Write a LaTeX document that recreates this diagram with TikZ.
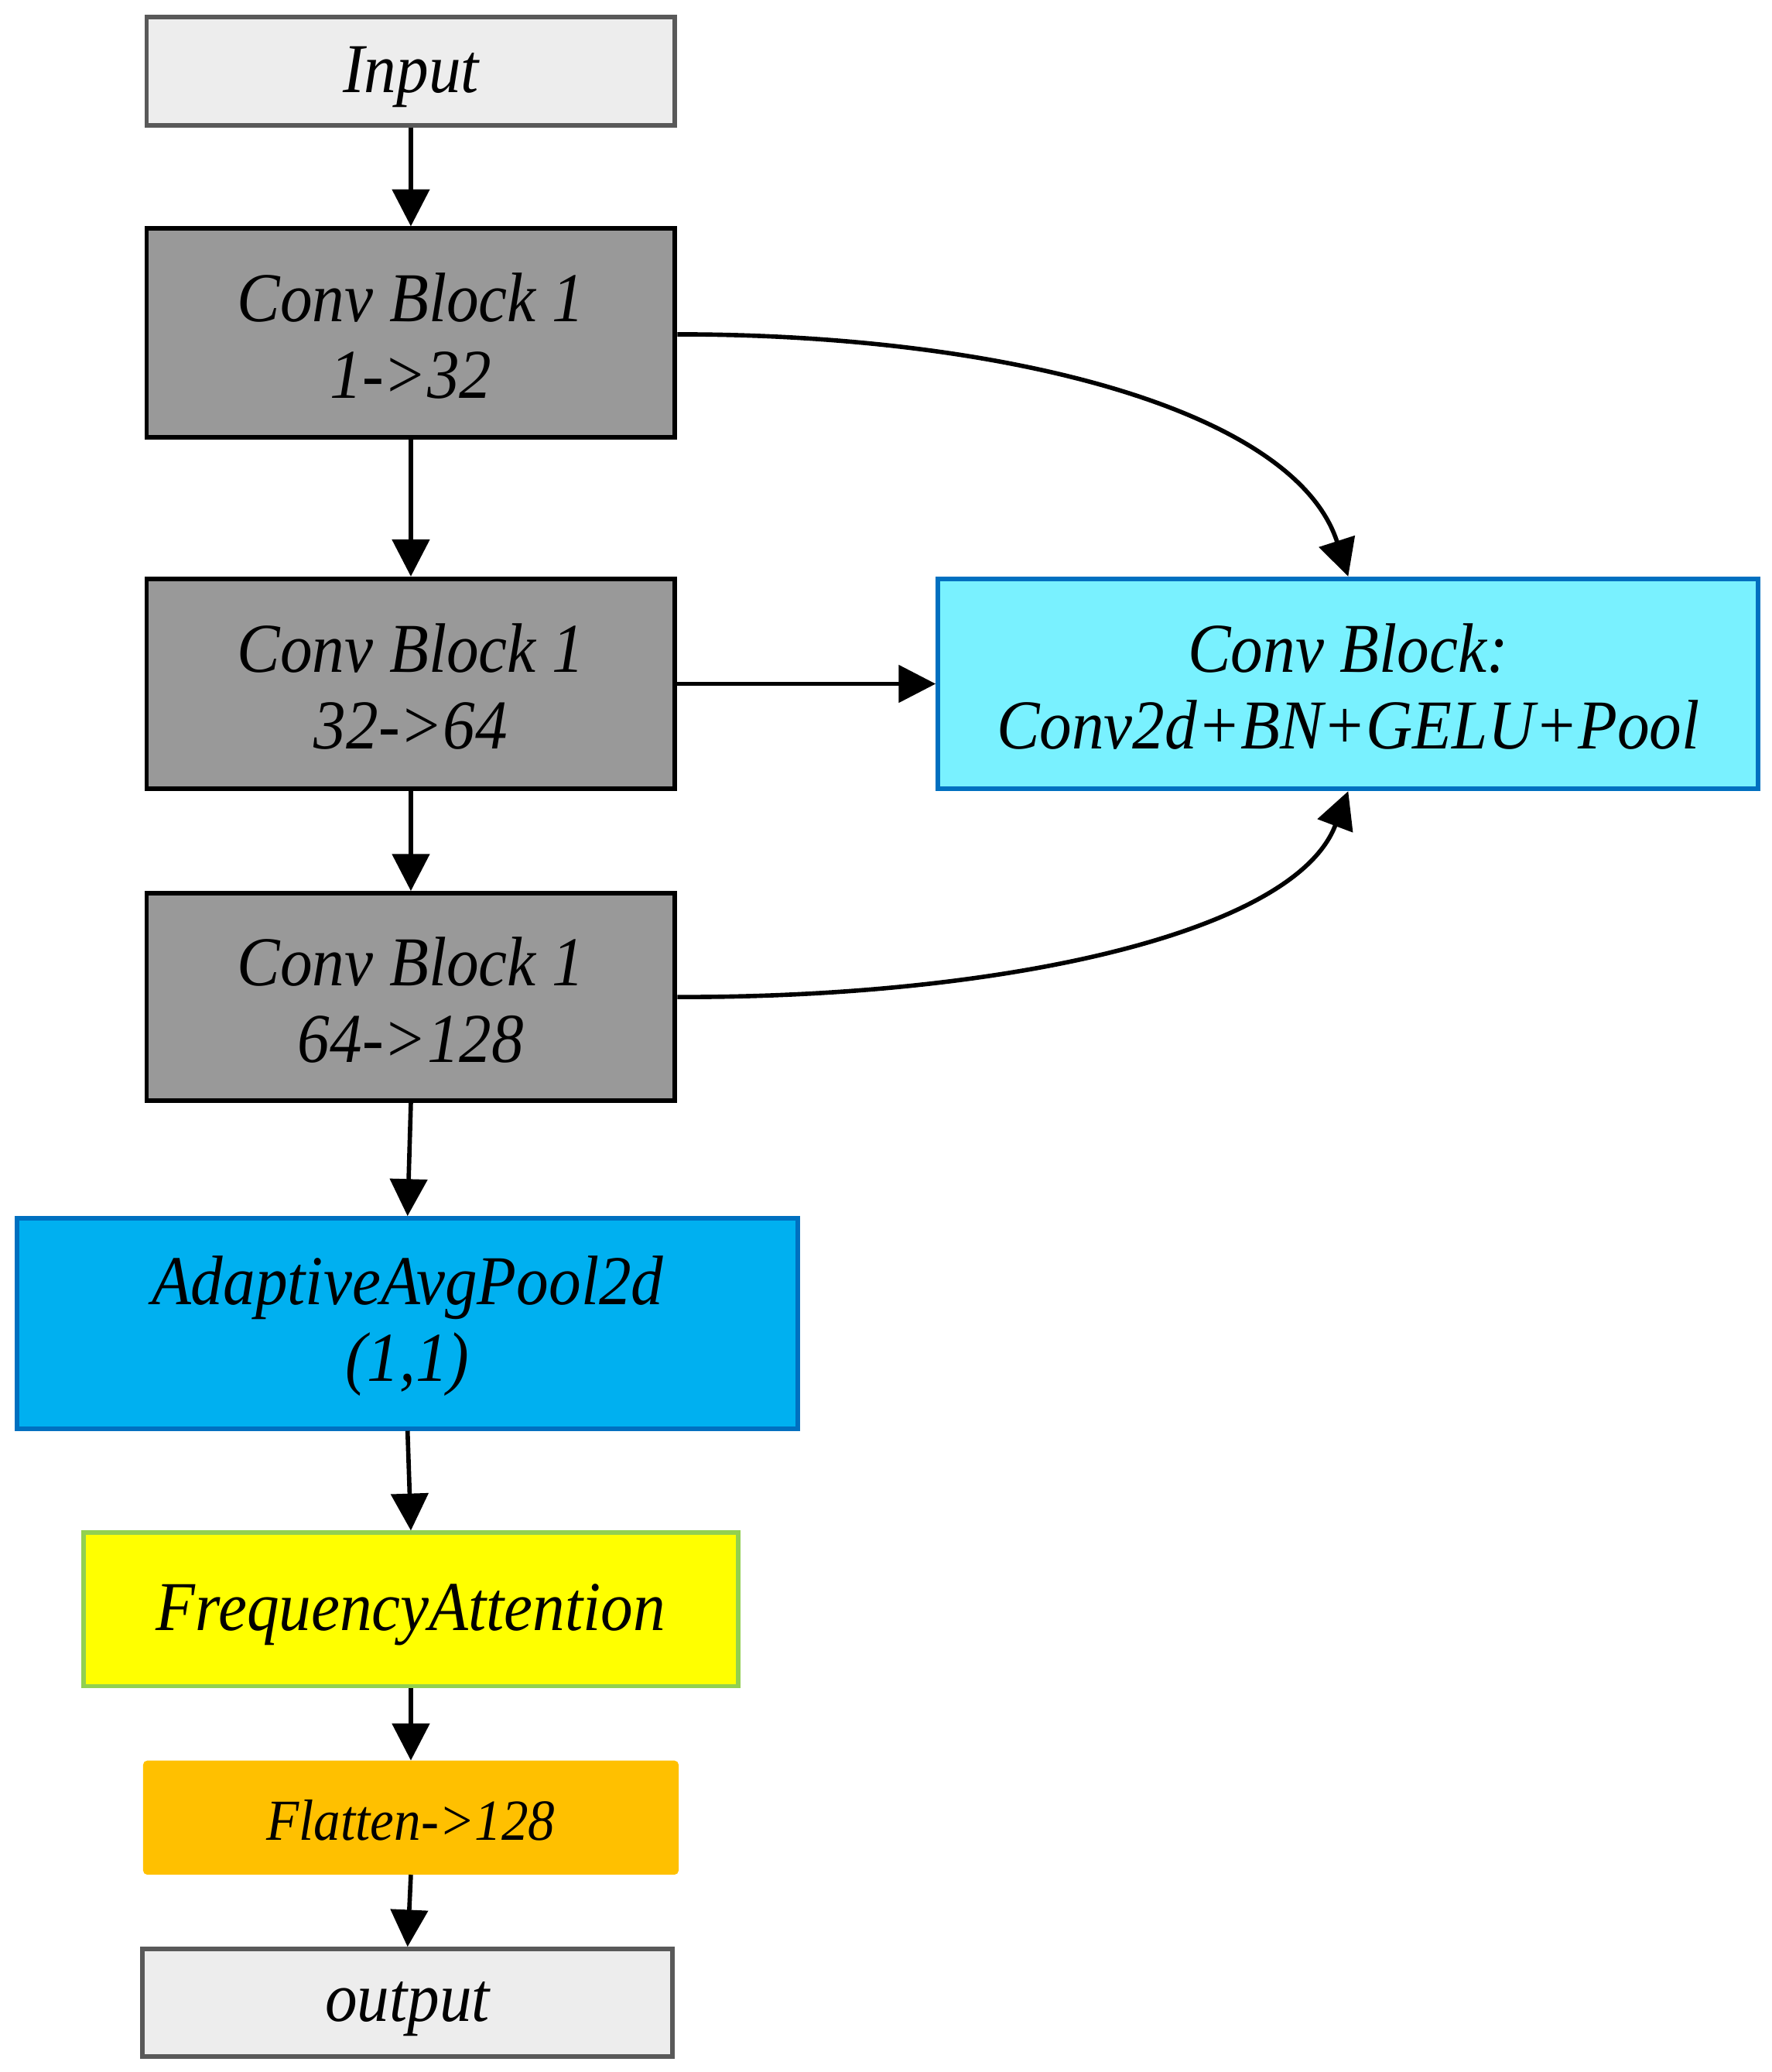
\documentclass[tikz,border=0pt]{standalone}
\usepackage{fontspec}
\setmainfont{Liberation Serif}[FakeStretch=0.92]
\usetikzlibrary{arrows.meta}
\definecolor{lgray}{HTML}{EDEDED}
\definecolor{dgray}{HTML}{595959}
\definecolor{mgray}{HTML}{999999}
\definecolor{lcyan}{HTML}{79F1FF}
\definecolor{dblue}{HTML}{0070C0}
\definecolor{sky}{HTML}{00B0F0}
\definecolor{ylw}{HTML}{FFFF00}
\definecolor{lgreen}{HTML}{92D050}
\definecolor{orng}{HTML}{FFC000}
\tikzset{
  box/.style={rectangle, inner sep=0pt, line width=3.5pt, align=center,
    font=\fontsize{53}{58}\selectfont\itshape},
  txt/.style={inner sep=0pt, align=center, font=\fontsize{53}{58}\selectfont\itshape},
  iobox/.style={box, draw=dgray, fill=lgray},
  convbox/.style={box, draw=black, fill=mgray},
  cbbox/.style={box, draw=dblue, fill=lcyan},
  apbox/.style={box, draw=dblue, fill=sky},
  fabox/.style={box, draw=lgreen, fill=ylw},
  flbox/.style={box, draw=orng, fill=orng, rounded corners=2pt},
  arr/.style={line width=3.3pt, -{Triangle[length=28pt,width=28pt]}}
}
\begin{document}
\begin{tikzpicture}[x=1pt,y=-1pt]
\useasboundingbox (0,0) rectangle (1341,1568);
\node[iobox, minimum width=400pt, minimum height=82pt,
  label={[txt, yshift=-4pt]center:Input}] (in) at (311,54) {};
\node[convbox, minimum width=400pt, minimum height=158pt,
  label={[txt, yshift=-2pt]center:Conv Block 1\\1->32}] (c1) at (311,252) {};
\node[convbox, minimum width=400pt, minimum height=159pt,
  label={[txt, yshift=-2pt]center:Conv Block 1\\32->64}] (c2) at (311,517.5) {};
\node[convbox, minimum width=400pt, minimum height=157pt,
  label={[txt, yshift=-2pt]center:Conv Block 1\\64->128}] (c3) at (311,754.5) {};
\node[cbbox, minimum width=621pt, minimum height=159pt,
  label={[txt, yshift=-2pt]center:Conv Block:\\Conv2d+BN+GELU+Pool}] (cb) at (1020.5,517.5) {};
\node[apbox, minimum width=591pt, minimum height=159pt,
  label={[txt, yshift=-2pt]center:AdaptiveAvgPool2d\\(1,1)}] (ap) at (308.5,1001.5) {};
\node[fabox, minimum width=496pt, minimum height=116pt,
  label={[txt, yshift=-4pt]center:FrequencyAttention}] (fa) at (311,1218) {};
\node[flbox, minimum width=402pt, minimum height=83pt,
  label={[txt, font=\fontsize{44}{50}\selectfont\itshape, yshift=-2pt]center:Flatten->128}] (fl) at (311,1375.5) {};
\node[iobox, minimum width=401pt, minimum height=81pt,
  label={[txt, yshift=-5pt]center:output}] (out) at (308.5,1515.5) {};

\draw[arr] (in.south) -- (c1.north);
\draw[arr] (c1.south) -- (c2.north);
\draw[arr] (c2.south) -- (c3.north);
\draw[arr] (c3.south) -- (ap.north);
\draw[arr] (ap.south) -- (fa.north);
\draw[arr] (fa.south) -- (fl.north);
\draw[arr] (fl.south) -- (out.north);
\draw[arr] (c2.east) -- (cb.west);
\draw[arr] (c1.east |- 0,253) .. controls (760,253) and (980,310) .. (cb.north);
\draw[arr] (c3.east) .. controls (760,755) and (980,706) .. (cb.south);
\end{tikzpicture}
\end{document}
